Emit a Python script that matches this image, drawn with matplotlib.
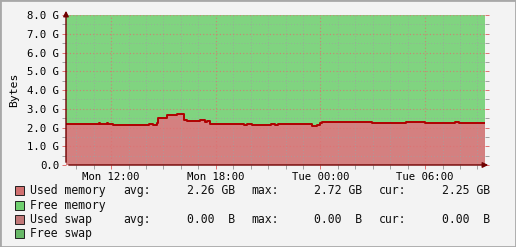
import datetime as dt
import matplotlib
matplotlib.use("Agg")
import matplotlib.pyplot as plt
import matplotlib.dates as mdates
from matplotlib.patches import Rectangle

# used memory (GB), step changes
times = ["01-08 09:25", "01-08 11:19", "01-08 11:23", "01-08 11:46", "01-08 11:50",
         "01-08 12:07", "01-08 14:11", "01-08 14:24", "01-08 14:38", "01-08 14:42",
         "01-08 15:13", "01-08 15:47", "01-08 16:11", "01-08 16:21", "01-08 17:06",
         "01-08 17:23", "01-08 17:30", "01-08 17:40", "01-08 19:37", "01-08 19:47",
         "01-08 20:04", "01-08 21:10", "01-08 21:24", "01-08 21:34", "01-08 23:31",
         "01-08 23:48", "01-08 23:58", "01-09 00:05", "01-09 02:57", "01-09 04:54",
         "01-09 06:00", "01-09 07:43", "01-09 07:57", "01-09 09:26"]
used = [2.17, 2.22, 2.17, 2.22, 2.17,
        2.12, 2.17, 2.12, 2.22, 2.49,
        2.65, 2.72, 2.40, 2.35, 2.40,
        2.32, 2.35, 2.17, 2.12, 2.17,
        2.12, 2.17, 2.12, 2.17, 2.08,
        2.13, 2.22, 2.28, 2.22, 2.28,
        2.22, 2.28, 2.22, 2.25]
total = 8.0

yticks = [0, 1, 2, 3, 4, 5, 6, 7, 8]
ylabels = ["0.0", "1.0 G", "2.0 G", "3.0 G", "4.0 G", "5.0 G", "6.0 G", "7.0 G", "8.0 G"]

legend_names = ["Used memory", "Free memory", "Used swap", "Free swap"]
legend_colors = ["#D07070", "#70D070", "#C07878", "#68B868"]
legend_stats = [["2.26 GB", "2.72 GB", "2.25 GB"], None,
                ["0.00  B", "0.00  B", "0.00  B"], None]
stat_names = ["avg:", "max:", "cur:"]

x = [dt.datetime.strptime("2024-" + t, "%Y-%m-%d %H:%M") for t in times]

mono = "DejaVu Sans Mono"
W, H = 516, 247
fig = plt.figure(figsize=(W / 100, H / 100), dpi=100, facecolor="#F3F3F3")
ax = fig.add_axes([66 / W, (H - 165) / H, (485 - 66) / W, 150 / H])
ax.set_facecolor("#F3F3F3")

ax.fill_between(x, used, total, step="post", color="#80D480", lw=0, zorder=1)
ax.fill_between(x, 0, used, step="post", color="#D48080", lw=0, zorder=1)
ax.step(x, used, where="post", color="#B00000", lw=1.4, zorder=3)

ax.set_xlim(x[0], x[-1])
ax.set_ylim(0, 8)

ax.xaxis.set_major_locator(mdates.HourLocator(byhour=[0, 6, 12, 18]))
ax.xaxis.set_minor_locator(mdates.HourLocator())
ax.xaxis.set_major_formatter(mdates.DateFormatter("%a %H:%M"))
ax.set_yticks(yticks)
ax.set_yticklabels(ylabels)
ax.set_yticks([v + 0.5 for v in yticks[:-1]], minor=True)

ax.grid(which="major", color="#E07070", linestyle=(0, (1, 2)), lw=0.8, alpha=0.8)
ax.grid(which="minor", color="#A0A0A0", linestyle=(0, (1, 2)), lw=0.7, alpha=0.7)
ax.set_axisbelow(False)

for s in ax.spines.values():
    s.set_visible(False)

ax.tick_params(axis="both", which="both", direction="out", labelsize=7.7,
               length=3, width=0.7, pad=2)
ax.tick_params(axis="y", which="both", right=True)
ax.tick_params(axis="both", which="major", color="#E07070")
ax.tick_params(axis="both", which="minor", color="#A0A0A0")
for lab in ax.get_xticklabels() + ax.get_yticklabels():
    lab.set_fontfamily(mono)

ax.set_ylabel("Bytes", fontfamily=mono, fontsize=8.2, labelpad=6)

# axis lines with arrows (figure pixels count from the bottom)
ax.annotate("", xy=(491, H - 165), xytext=(66, H - 165), xycoords="figure pixels",
            textcoords="figure pixels",
            arrowprops=dict(arrowstyle="-|>", color="#700000", lw=1.0, mutation_scale=8))
ax.annotate("", xy=(66, H - 8), xytext=(66, H - 165), xycoords="figure pixels",
            textcoords="figure pixels",
            arrowprops=dict(arrowstyle="-|>", color="#700000", lw=1.0, mutation_scale=8))

# legend
rows_y = [190.5, 205, 219, 233.5]
name_x = [123, 251, 379]
val_end = [235, 362, 490]
fs = 8.3
for name, col, stats, yy in zip(legend_names, legend_colors, legend_stats, rows_y):
    fy = (H - yy) / H
    fig.patches.append(Rectangle((15 / W, (H - yy - 4.5) / H), 9 / W, 9 / H,
                                 transform=fig.transFigure, facecolor=col,
                                 edgecolor="#202020", lw=0.7))
    fig.text(30.5 / W, fy, name, fontfamily=mono, fontsize=fs,
             va="center", ha="left", color="#101010")
    if stats:
        for sn, sv, nx, ve in zip(stat_names, stats, name_x, val_end):
            fig.text(nx / W, fy, sn, fontfamily=mono, fontsize=fs,
                     va="center", ha="left", color="#101010")
            fig.text(ve / W, fy, sv, fontfamily=mono, fontsize=fs,
                     va="center", ha="right", color="#101010")

# frame shading
fig.patches.append(Rectangle((0, 0), 1, 1, transform=fig.transFigure, fill=False,
                             edgecolor="#A8A8A8", lw=2))

fig.savefig("out.png", dpi=100, facecolor=fig.get_facecolor())
